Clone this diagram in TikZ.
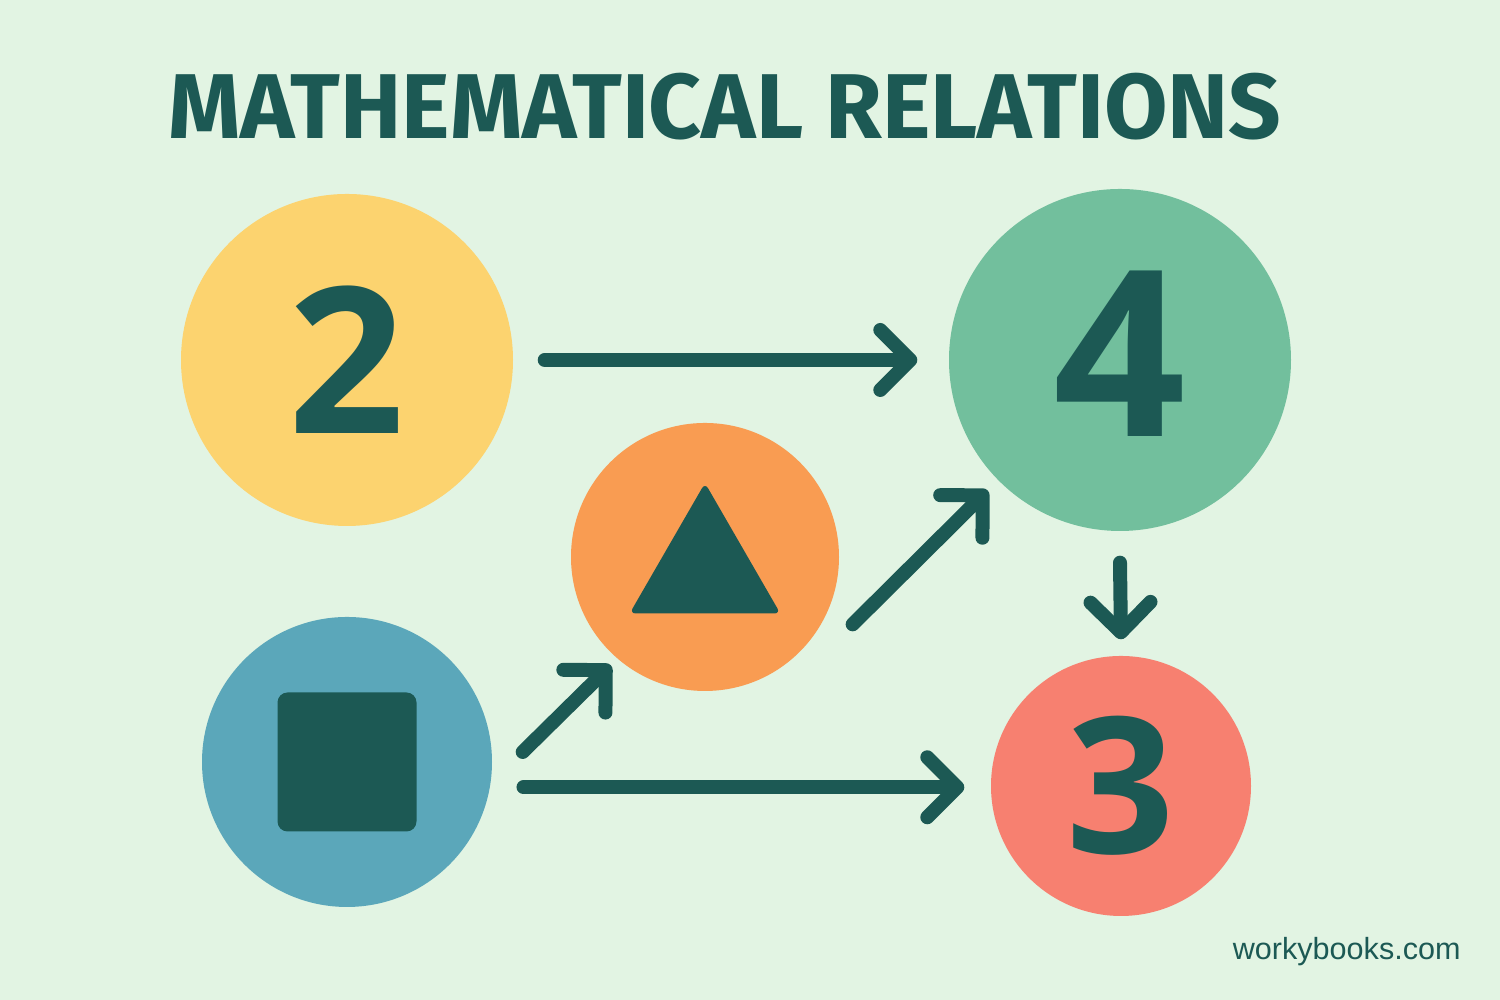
\documentclass[tikz,border=0pt]{standalone}
\usepackage{fontspec}
\setmainfont{Liberation Sans}
\newfontfamily\firafont{Fira Sans}
\newfontfamily\digitfont{Open Sans}
\usetikzlibrary{arrows.meta, shapes.geometric}

\definecolor{bgmint}{HTML}{E2F4E3}
\definecolor{deepteal}{HTML}{1C5954}
\definecolor{sunyellow}{HTML}{FCD36F}
\definecolor{seagreen}{HTML}{72BF9D}
\definecolor{tangerine}{HTML}{F99C52}
\definecolor{skyblue}{HTML}{5BA7BA}
\definecolor{salmonred}{HTML}{F78070}

\begin{document}
\begin{tikzpicture}[
	ball/.style={circle, inner sep=0pt, text=deepteal},
	relarrow/.style={deepteal, line width=0.14cm, line cap=round, line join=round, -{Straight Barb[length=0.3cm, width=0.6cm, round]}}
	]
	\fill[bgmint] (0,0) rectangle (15,10);
	\useasboundingbox (0,0) rectangle (15,10);
	
	\node[text=deepteal, font=\firafont\bfseries\fontsize{26.2}{26.2}\selectfont] (title) at (7.25,8.93) {MATHEMATICAL RELATIONS};
	
	\node[ball, fill=sunyellow, minimum size=3.32cm, font=\digitfont\bfseries\fontsize{58}{58}\selectfont] (two) at (3.47,6.40) {2};
	\node[ball, fill=seagreen, minimum size=3.42cm, text depth=0.12cm, font=\digitfont\bfseries\fontsize{66}{66}\selectfont] (four) at (11.20,6.40) {4};
	\node[ball, fill=tangerine, minimum size=2.68cm] (tri) at (7.05,4.43) {};
	\node[ball, fill=skyblue, minimum size=2.90cm] (sq) at (3.47,2.38) {};
	\node[ball, fill=salmonred, minimum size=2.60cm, font=\digitfont\bfseries\fontsize{54}{54}\selectfont] (three) at (11.21,2.14) {3};
	
	\node[fill=deepteal, rounded corners=0.1cm, minimum size=1.39cm, inner sep=0pt] (sqmark) at (sq) {};
	\node[regular polygon, regular polygon sides=3, fill=deepteal, rounded corners=0.6mm, minimum size=1.74cm, inner sep=0pt] (trimark) at (7.05,4.30) {};
	
	\draw[relarrow] ([xshift=0.31cm]two.east) -- ([xshift=-0.31cm]four.west);
	\draw[relarrow] ([shift={(0.30,0.10)}]sq.east) -- ([shift={(0.01,-0.13)}]tri.225);
	\draw[relarrow] ([xshift=0.31cm]tri.-30) -- ([shift={(-0.11,-0.09)}]four.225);
	\draw[relarrow] ([yshift=-0.31cm]four.south) -- ([yshift=0.16cm]three.north);
	\draw[relarrow] ([xshift=0.33cm]sq.-10) -- ([xshift=-0.26cm]sq.-10 -| three.west);
	
	\node[anchor=base east, text=deepteal, font=\fontsize{8.7}{8.7}\selectfont] (site) at (14.73,0.40) {workybooks.com};
\end{tikzpicture}
\end{document}
